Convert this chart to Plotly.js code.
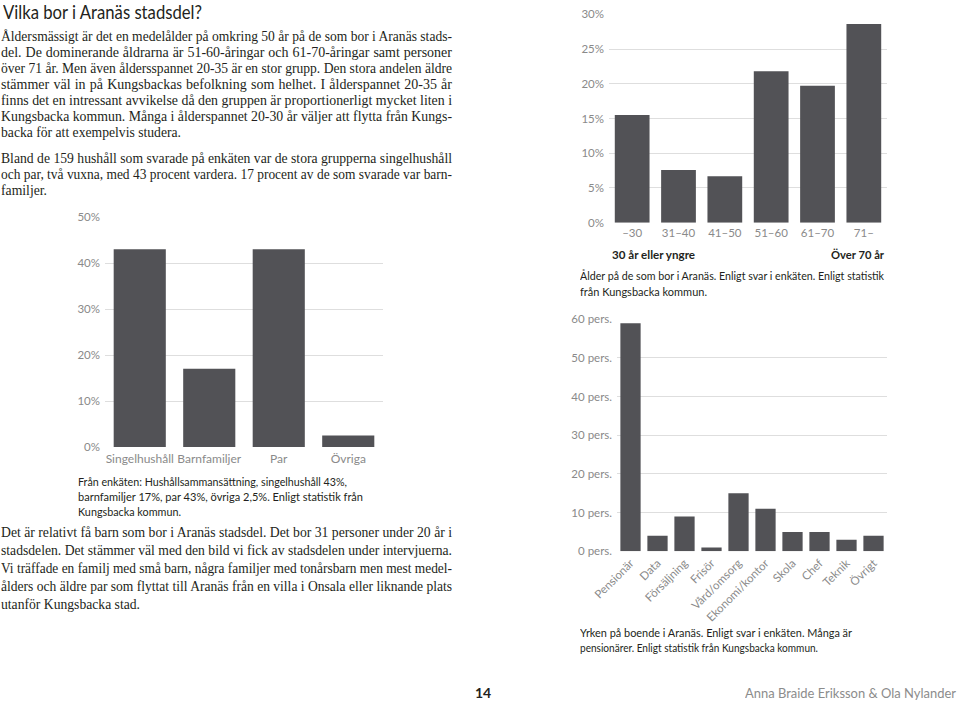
<!DOCTYPE html>
<html><head><meta charset="utf-8">
<script src="https://cdn.plot.ly/plotly-3.0.1.min.js"></script>
<style>
body{margin:0;background:#fff}
#page{position:relative;width:960px;height:703px;overflow:hidden;background:#fff}
#plot{position:absolute;left:0;top:0;width:960px;height:703px}
.ln{position:absolute;white-space:nowrap;transform-origin:0 50%}
.serif{font-family:"Liberation Serif","DejaVu Serif",serif;font-size:14px;line-height:16px;color:#231f20}
.sans{font-family:"Lato","Open Sans",sans-serif;font-size:11px;line-height:14px;color:#231f20}
.title{font-family:"Lato","Open Sans",sans-serif;font-size:19px;line-height:22px;color:#231f20}
.bold{font-weight:bold;font-size:12px}
.foot{font-family:"Lato","Open Sans",sans-serif;font-size:14px;line-height:16px}
</style></head>
<body>
<div id="page">
<div id="plot"></div>

<div class="ln title" style="left:3px;top:1px" data-w="199">Vilka bor i Aranäs stadsdel?</div>

<div class="ln serif" style="left:1px;top:29px" data-w="451" data-j>Åldersmässigt är det en medelålder på omkring 50 år på de som bor i Aranäs stads-</div>
<div class="ln serif" style="left:1px;top:45px" data-w="451" data-j>del. De dominerande åldrarna är 51-60-åringar och 61-70-åringar samt personer</div>
<div class="ln serif" style="left:1px;top:61px" data-w="451" data-j>över 71 år. Men även åldersspannet 20-35 är en stor grupp. Den stora andelen äldre</div>
<div class="ln serif" style="left:1px;top:77px" data-w="451" data-j>stämmer väl in på Kungsbackas befolkning som helhet. I ålderspannet 20-35 år</div>
<div class="ln serif" style="left:1px;top:93px" data-w="451" data-j>finns det en intressant avvikelse då den gruppen är proportionerligt mycket liten i</div>
<div class="ln serif" style="left:1px;top:109px" data-w="451" data-j>Kungsbacka kommun. Många i ålderspannet 20-30 år väljer att flytta från Kungs-</div>
<div class="ln serif" style="left:1px;top:125px" data-w="180">backa för att exempelvis studera.</div>

<div class="ln serif" style="left:1px;top:151px" data-w="451" data-j>Bland de 159 hushåll som svarade på enkäten var de stora grupperna singelhushåll</div>
<div class="ln serif" style="left:1px;top:167px" data-w="451" data-j>och par, två vuxna, med 43 procent vardera. 17 procent av de som svarade var barn-</div>
<div class="ln serif" style="left:1px;top:183px" data-w="46">familjer.</div>

<div class="ln sans" style="left:78px;top:475px" data-w="269">Från enkäten: Hushållsammansättning, singelhushåll 43%,</div>
<div class="ln sans" style="left:78px;top:490px" data-w="285">barnfamiljer 17%, par 43%, övriga 2,5%. Enligt statistik från</div>
<div class="ln sans" style="left:78px;top:505px" data-w="103">Kungsbacka kommun.</div>

<div class="ln serif" style="left:1px;top:525px" data-w="451" data-j>Det är relativt få barn som bor i Aranäs stadsdel. Det bor 31 personer under 20 år i</div>
<div class="ln serif" style="left:1px;top:543px" data-w="451" data-j>stadsdelen. Det stämmer väl med den bild vi fick av stadsdelen under intervjuerna.</div>
<div class="ln serif" style="left:1px;top:561px" data-w="451" data-j>Vi träffade en familj med små barn, några familjer med tonårsbarn men mest medel-</div>
<div class="ln serif" style="left:1px;top:579px" data-w="451" data-j>ålders och äldre par som flyttat till Aranäs från en villa i Onsala eller liknande plats</div>
<div class="ln serif" style="left:1px;top:597px" data-w="139">utanför Kungsbacka stad.</div>

<div class="ln sans bold" style="left:612px;top:248px" data-w="83">30 år eller yngre</div>
<div class="ln sans bold" style="left:831px;top:248px" data-w="53">Över 70 år</div>
<div class="ln sans" style="left:580px;top:269px" data-w="304">Ålder på de som bor i Aranäs. Enligt svar i enkäten. Enligt statistik</div>
<div class="ln sans" style="left:580px;top:285px" data-w="127">från Kungsbacka kommun.</div>

<div class="ln sans" style="left:580px;top:626px" data-w="272">Yrken på boende i Aranäs. Enligt svar i enkäten. Många är</div>
<div class="ln sans" style="left:580px;top:641px" data-w="238">pensionärer. Enligt statistik från Kungsbacka kommun.</div>

<div class="ln foot bold" style="left:475px;top:685px;font-size:14px;color:#231f20">14</div>
<div class="ln foot" style="left:745px;top:685px;color:#8c8c8c" data-w="211">Anna Braide Eriksson &amp; Ola Nylander</div>
</div>

<script>
// Chart 1: household composition (%)
const hhCats = ['Singelhushåll', 'Barnfamiljer', 'Par', 'Övriga'];
const hhVals = [43, 17, 43, 2.5];

// Chart 2: age of residents (%)
const ageCats = ['–30', '31–40', '41–50', '51–60', '61–70', '71–'];
const ageVals = [15.5, 7.6, 6.7, 21.8, 19.7, 28.6];

// Chart 3: occupations (persons)
const jobCats = ['Pensionär', 'Data', 'Försäljning', 'Frisör', 'Vård/omsorg', 'Ekonomi/kontor', 'Skola', 'Chef', 'Teknik', 'Övrigt'];
const jobVals = [59, 4, 9, 1, 15, 11, 5, 5, 3, 4];

const barColor = '#525256';
const gridC = '#dedede';
const fam = 'Lato, "Open Sans", sans-serif';
const tf = {family: fam, size: 11.5, color: '#8a8a8a'};

const traces = [
  {type: 'bar', x: hhCats, y: hhVals, xaxis: 'x', yaxis: 'y', marker: {color: barColor}},
  {type: 'bar', x: ageCats, y: ageVals, xaxis: 'x2', yaxis: 'y2', marker: {color: barColor}},
  {type: 'bar', x: jobCats, y: jobVals, xaxis: 'x3', yaxis: 'y3', marker: {color: barColor}}
];

const xBase = {showgrid: false, zeroline: false, showline: false, ticks: '', fixedrange: true, type: 'category'};
const yBase = {showgrid: true, gridcolor: gridC, gridwidth: 1, zeroline: false, showline: false, ticks: '', tickfont: tf, fixedrange: true, ticklabelstandoff: 4};

const layout = {
  width: 960, height: 703,
  margin: {l: 0, r: 0, t: 0, b: 0},
  paper_bgcolor: 'rgba(0,0,0,0)', plot_bgcolor: 'rgba(0,0,0,0)',
  showlegend: false, bargap: 0.25,
  xaxis: Object.assign({}, xBase, {domain: [105/960, 383/960], anchor: 'y', tickangle: 0, tickfont: {family: fam, size: 12, color: '#8a8a8a'}, ticklabelstandoff: 3}),
  yaxis: Object.assign({}, yBase, {domain: [256/703, 486/703], anchor: 'x', range: [0, 50], dtick: 10, ticksuffix: '%'}),
  xaxis2: Object.assign({}, xBase, {domain: [609/960, 887/960], anchor: 'y2', tickangle: 0, tickfont: {family: fam, size: 11.5, color: '#8a8a8a'}, ticklabelstandoff: 2}),
  yaxis2: Object.assign({}, yBase, {domain: [(703-222.7)/703, (703-14.3)/703], anchor: 'x2', range: [0, 30], dtick: 5, ticksuffix: '%'}),
  xaxis3: Object.assign({}, xBase, {domain: [617/960, 887/960], anchor: 'y3', tickangle: -45, tickfont: {family: fam, size: 11.5, color: '#8a8a8a'}, ticklabelstandoff: 2}),
  yaxis3: Object.assign({}, yBase, {domain: [(703-551.3)/703, (703-319.3)/703], anchor: 'x3', range: [0, 60], dtick: 10, ticksuffix: ' pers.'})
};

Plotly.newPlot('plot', traces, layout, {staticPlot: true, displayModeBar: false});

function fit() {
  document.querySelectorAll('.ln[data-w]').forEach(el => {
    const w = +el.dataset.w;
    el.style.wordSpacing = '0px';
    el.style.transform = '';
    const nat = el.getBoundingClientRect().width;
    if (!nat) return;
    if (el.dataset.j !== undefined) {
      const spaces = (el.textContent.match(/ /g) || []).length;
      if (nat < w && spaces) el.style.wordSpacing = ((w - nat) / spaces) + 'px';
      else el.style.transform = 'scaleX(' + (w / nat) + ')';
    } else {
      el.style.transform = 'scaleX(' + (w / nat) + ')';
    }
  });
}
fit();
if (document.fonts && document.fonts.ready) document.fonts.ready.then(fit);
</script>
</body></html>
